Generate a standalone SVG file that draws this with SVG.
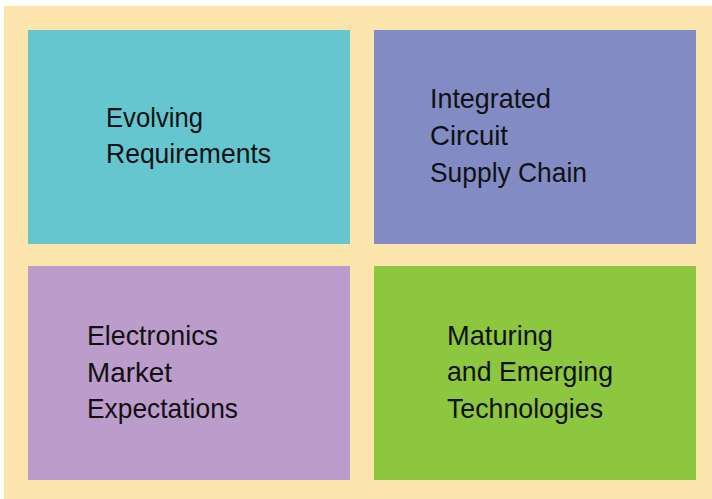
<svg xmlns="http://www.w3.org/2000/svg" width="712" height="499" viewBox="0 0 712 499">
  <style>
    .lbl { font-family: "Liberation Sans", Arial, sans-serif; font-size: 28px; fill: #111111; }
  </style>
  <rect x="0" y="0" width="712" height="499" fill="#ffffff"/>
  <!-- tan backdrop frame -->
  <rect x="4" y="6" width="708" height="493" fill="#FBE5AC"/>

  <g id="evolving-requirements">
    <rect x="28" y="30" width="322" height="214" fill="#66C6CF"/>
    <text class="lbl" x="106" y="127" textLength="97" lengthAdjust="spacingAndGlyphs">Evolving</text>
    <text class="lbl" x="106" y="163" textLength="165" lengthAdjust="spacingAndGlyphs">Requirements</text>
  </g>

  <g id="ic-supply-chain">
    <rect x="374" y="30" width="322" height="214" fill="#838BC4"/>
    <text class="lbl" x="430" y="108" textLength="121" lengthAdjust="spacingAndGlyphs">Integrated</text>
    <text class="lbl" x="430" y="145" textLength="78" lengthAdjust="spacingAndGlyphs">Circuit</text>
    <text class="lbl" x="430" y="182" textLength="157" lengthAdjust="spacingAndGlyphs">Supply Chain</text>
  </g>

  <g id="market-expectations">
    <rect x="28" y="266" width="322" height="214" fill="#BC9CCB"/>
    <text class="lbl" x="87" y="345" textLength="131" lengthAdjust="spacingAndGlyphs">Electronics</text>
    <text class="lbl" x="87" y="381.5" textLength="85" lengthAdjust="spacingAndGlyphs">Market</text>
    <text class="lbl" x="87" y="418" textLength="151" lengthAdjust="spacingAndGlyphs">Expectations</text>
  </g>

  <g id="maturing-technologies">
    <rect x="374" y="266" width="322" height="214" fill="#8DC63F"/>
    <text class="lbl" x="447" y="344.5" textLength="106" lengthAdjust="spacingAndGlyphs">Maturing</text>
    <text class="lbl" x="447" y="381" textLength="166" lengthAdjust="spacingAndGlyphs">and Emerging</text>
    <text class="lbl" x="447" y="418" textLength="156" lengthAdjust="spacingAndGlyphs">Technologies</text>
  </g>

  <g id="connectors"></g>
</svg>
